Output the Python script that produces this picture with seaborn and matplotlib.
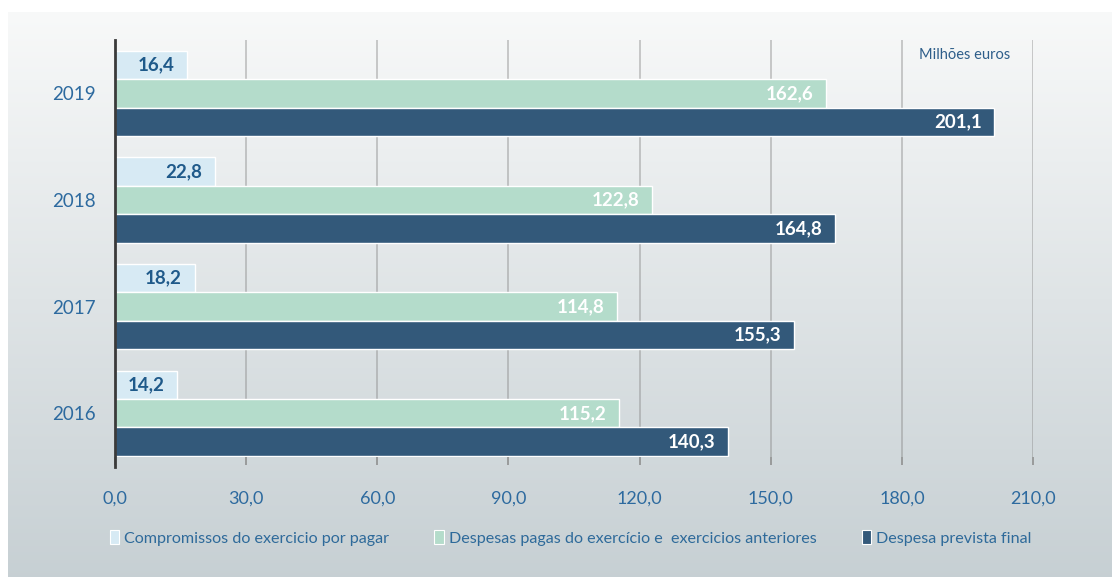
import numpy as np
import pandas as pd
import matplotlib.pyplot as plt
import seaborn as sns
from matplotlib.patches import Patch

# data (milhões euros)
anos = ["2019", "2018", "2017", "2016"]
compromissos = [16.4, 22.8, 18.2, 14.2]
despesas_pagas = [162.6, 122.8, 114.8, 115.2]
despesa_prevista = [201.1, 164.8, 155.3, 140.3]
series = ["Compromissos do exercicio por pagar",
          "Despesas pagas do exercício e  exercicios anteriores",
          "Despesa prevista final"]
cores = ["#d7eaf4", "#b4dccb", "#33597a"]
cores_texto = ["#1f5a8a", "white", "white"]
xticks = [0, 30, 60, 90, 120, 150, 180, 210]

df = pd.DataFrame({
    "ano": anos * 3,
    "valor": compromissos + despesas_pagas + despesa_prevista,
    "serie": [series[0]] * 4 + [series[1]] * 4 + [series[2]] * 4,
})

sns.set_style("white")
plt.rcParams["font.family"] = ["Lato", "DejaVu Sans"]

fig = plt.figure(figsize=(11.12, 5.77), dpi=100)
fig.patch.set_facecolor("white")

# gradient panel behind the chart
bg = fig.add_axes([8 / 1112, 0, 1 - 8 / 1112, 1 - 12 / 577], zorder=-10)
grad = np.linspace(0, 1, 256).reshape(-1, 1)
top = np.array([0.972, 0.976, 0.976])
bot = np.array([0.780, 0.815, 0.830])
img = top + (bot - top) * grad[:, :, None]
bg.imshow(img, aspect="auto", extent=[0, 1, 0, 1])
bg.axis("off")

ax = fig.add_axes([115 / 1112, 1 - 457 / 577, (1033 - 115) / 1112, (457 - 40) / 577])
ax.set_facecolor("none")

sns.barplot(data=df, x="valor", y="ano", hue="serie", order=anos, hue_order=series,
            palette=cores, orient="h", width=0.8, saturation=1,
            edgecolor="white", linewidth=1, ax=ax, legend=False, zorder=3)

ax.set_xlim(0, 210)
ax.set_ylim(3.41, -0.5)
ax.set_xticks(xticks)
ax.set_xticklabels([f"{t:.1f}".replace(".", ",") for t in xticks])
ax.xaxis.grid(True, color="#8a8a8a", alpha=0.55, linewidth=1.1, zorder=0)
ax.set_axisbelow(True)
ax.tick_params(axis="x", length=6, width=1.1, color="#8a8a8a", labelcolor="#2d6a9f",
               labelsize=13, pad=18, bottom=True)
ax.tick_params(axis="y", length=0, labelcolor="#2d6a9f", labelsize=13.5, pad=14)
ax.set_xlabel("")
ax.set_ylabel("")
for s in ["top", "right", "bottom"]:
    ax.spines[s].set_visible(False)
ax.spines["left"].set_color("#3a3a3a")
ax.spines["left"].set_linewidth(2)
ax.spines["left"].set_bounds(3.5, -0.5)
ax.spines["left"].set_zorder(6)

# value labels inside the bar ends
for cont, cor in zip(ax.containers, cores_texto):
    for bar in cont:
        w = bar.get_width()
        ax.annotate(f"{w:.1f}".replace(".", ","), (w, bar.get_y() + bar.get_height() / 2),
                    xytext=(-9, 0), textcoords="offset points", ha="right", va="center",
                    fontsize=13.5, fontweight="bold", color=cor, zorder=5)

ax.text(0.975, 0.965, "Milhões euros", transform=ax.transAxes, ha="right", va="center",
        fontsize=10.5, color="#2e5e8a")

handles = [Patch(facecolor=c, edgecolor="white", linewidth=0.8) for c in cores]
fig.legend(handles, series, loc="center", bbox_to_anchor=(0.513, 1 - 538 / 577), ncol=3,
           frameon=False, fontsize=11.6, labelcolor="#2e6a9a", handlelength=0.6,
           handleheight=0.9, handletextpad=0.3, columnspacing=2.8)

fig.savefig("out.png", dpi=100)
